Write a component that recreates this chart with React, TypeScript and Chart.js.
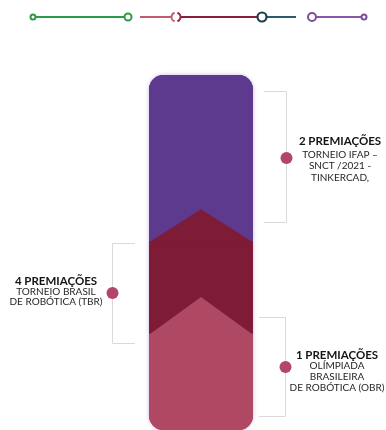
import React, { useEffect, useRef } from "react";
import { Chart, registerables } from "chart.js";

Chart.register(...registerables);

// ---- data ----
const CATEGORIES = ["Premiações"];
const SEGMENT_LABELS = ["OBR", "TBR", "IFAP"];
const SEGMENT_VALUES = [27, 26, 47]; // share of column height (bottom -> top)
const CHEVRON_RISE = [10.5, 9.2]; // chevron point height above each boundary
const SEGMENT_COLORS = ["#ae4863", "#7e1b37", "#5d3a8e"];
const AWARD_TITLES = ["2 PREMIAÇÕES", "4 PREMIAÇÕES", "1 PREMIAÇÕES"];
const AWARD_LINES = [
  ["TORNEIO IFAP –", "SNCT /2021 -", "TINKERCAD,"],
  ["TORNEIO BRASIL", "DE ROBÓTICA (TBR)"],
  ["OLÍMPIADA", "BRASILEIRA", "DE ROBÓTICA (OBR)"],
];

// ---- layout (pixels) ----
const CALLOUTS = [
  { lineX: 286.5, top: 91.5, bottom: 222.5, tickX: 264, dotY: 158, textX: 340, headY: 141.5, lineYs: [155, 166, 177.5] },
  { lineX: 112.5, top: 243.5, bottom: 343.5, tickX: 135, dotY: 293, textX: 56, headY: 281, lineYs: [291.5, 302] },
  { lineX: 285.5, top: 317.5, bottom: 416.5, tickX: 259, dotY: 367, textX: 337, headY: 355, lineYs: [366, 376.5, 387.5] },
];
const DOT_COLOR = "#b24668";
const FONT = "Lato, 'Noto Sans', sans-serif";

function drawLegend(ctx: CanvasRenderingContext2D) {
  const y = 17;
  ctx.save();
  ctx.lineWidth = 2;
  ctx.lineCap = "butt";
  const line = (x1: number, x2: number, c: string) => {
    ctx.strokeStyle = c;
    ctx.beginPath();
    ctx.moveTo(x1, y);
    ctx.lineTo(x2, y);
    ctx.stroke();
  };
  const ring = (x: number, r: number, c: string, w = 2) => {
    ctx.fillStyle = "#fff";
    ctx.strokeStyle = c;
    ctx.lineWidth = w;
    ctx.beginPath();
    ctx.arc(x, y, r, 0, Math.PI * 2);
    ctx.fill();
    ctx.stroke();
    ctx.lineWidth = 2;
  };
  // green
  line(34, 124, "#2f9a48");
  ring(33, 2.5, "#2f9a48");
  ring(128, 3.5, "#2f9a48");
  // pink -> red -> teal
  line(140, 171, "#c25872");
  line(181, 258, "#8b1e3a");
  line(266, 296, "#2a5a6c");
  ctx.lineWidth = 2;
  ctx.strokeStyle = "#c25872";
  ctx.beginPath();
  ctx.arc(176, y, 4.5, Math.PI * 0.6, Math.PI * 1.4);
  ctx.stroke();
  ctx.strokeStyle = "#9a2444";
  ctx.beginPath();
  ctx.arc(176, y, 4.5, -Math.PI * 0.4, Math.PI * 0.4);
  ctx.stroke();
  ring(262, 4.5, "#1d3f50", 2.2);
  // purple
  line(316, 361, "#8659ad");
  ring(312, 4, "#7b4f9e");
  ring(364, 2.5, "#7b4f9e");
  ctx.restore();
}

function drawCallouts(ctx: CanvasRenderingContext2D) {
  ctx.save();
  CALLOUTS.forEach((c, i) => {
    ctx.strokeStyle = "#d9d9d9";
    ctx.lineWidth = 1;
    ctx.beginPath();
    ctx.moveTo(c.tickX, c.top);
    ctx.lineTo(c.lineX, c.top);
    ctx.lineTo(c.lineX, c.bottom);
    ctx.lineTo(c.tickX, c.bottom);
    ctx.stroke();
    ctx.fillStyle = DOT_COLOR;
    ctx.beginPath();
    ctx.arc(c.lineX, c.dotY, 6, 0, Math.PI * 2);
    ctx.fill();
    ctx.textAlign = "center";
    ctx.textBaseline = "middle";
    ctx.fillStyle = "#141414";
    ctx.font = `bold 11.5px ${FONT}`;
    ctx.fillText(AWARD_TITLES[i], c.textX, c.headY);
    ctx.fillStyle = "#262626";
    ctx.font = `10px ${FONT}`;
    AWARD_LINES[i].forEach((t, j) => ctx.fillText(t, c.textX, c.lineYs[j]));
  });
  ctx.restore();
}

const infographicPlugin = {
  id: "infographic",
  beforeDatasetsDraw(chart: any) {
    const ctx = chart.ctx as CanvasRenderingContext2D;
    const first = chart.getDatasetMeta(0).data[0];
    const last = chart.getDatasetMeta(SEGMENT_VALUES.length - 1).data[0];
    if (!first || !last) return;
    const left = first.x - first.width / 2;
    ctx.save();
    ctx.shadowColor = "rgba(140,100,200,0.45)";
    ctx.shadowBlur = 4;
    ctx.fillStyle = SEGMENT_COLORS[2];
    ctx.beginPath();
    (ctx as any).roundRect(left, last.y, first.width, first.base - last.y, 15);
    ctx.fill();
    ctx.restore();
  },
  afterDatasetsDraw(chart: any) {
    const ctx = chart.ctx as CanvasRenderingContext2D;
    const yScale = chart.scales.y;
    let cum = 0;
    CHEVRON_RISE.forEach((rise, i) => {
      cum += SEGMENT_VALUES[i];
      const bar = chart.getDatasetMeta(i).data[0];
      if (!bar) return;
      const l = bar.x - bar.width / 2;
      const r = bar.x + bar.width / 2;
      const yEdge = yScale.getPixelForValue(cum);
      const yApex = yScale.getPixelForValue(cum + rise);
      ctx.save();
      ctx.fillStyle = SEGMENT_COLORS[i];
      ctx.beginPath();
      ctx.moveTo(l, yEdge + 0.5);
      ctx.lineTo(bar.x, yApex);
      ctx.lineTo(r, yEdge + 0.5);
      ctx.closePath();
      ctx.fill();
      ctx.restore();
    });
  },
  afterDraw(chart: any) {
    const ctx = chart.ctx as CanvasRenderingContext2D;
    drawLegend(ctx);
    drawCallouts(ctx);
  },
};

export default function App() {
  const ref = useRef<HTMLCanvasElement | null>(null);
  useEffect(() => {
    document.body.style.margin = "0";
    const canvas = ref.current;
    if (!canvas) return;
    const n = SEGMENT_VALUES.length;
    const chart = new Chart(canvas, {
      type: "bar",
      data: {
        labels: CATEGORIES,
        datasets: SEGMENT_VALUES.map((v, i) => ({
          label: SEGMENT_LABELS[i],
          data: [v],
          backgroundColor: SEGMENT_COLORS[i],
          borderWidth: 0,
          borderSkipped: false,
          borderRadius: {
            topLeft: i === n - 1 ? 15 : 0,
            topRight: i === n - 1 ? 15 : 0,
            bottomLeft: i === 0 ? 15 : 0,
            bottomRight: i === 0 ? 15 : 0,
          },
          barPercentage: 1,
          categoryPercentage: 1,
        })),
      },
      options: {
        responsive: false,
        animation: false,
        devicePixelRatio: 1,
        layout: { padding: { top: 75, bottom: 0, left: 149, right: 133 } },
        scales: {
          x: { display: false, stacked: true },
          y: { display: false, stacked: true, min: 0, max: 100 },
        },
        plugins: { legend: { display: false }, tooltip: { enabled: false } },
      },
      plugins: [infographicPlugin],
    });
    return () => chart.destroy();
  }, []);
  return (
    <div style={{ position: "absolute", left: 0, top: 0, width: 386, height: 430, background: "#fff" }}>
      <canvas ref={ref} width={386} height={430} />
    </div>
  );
}
